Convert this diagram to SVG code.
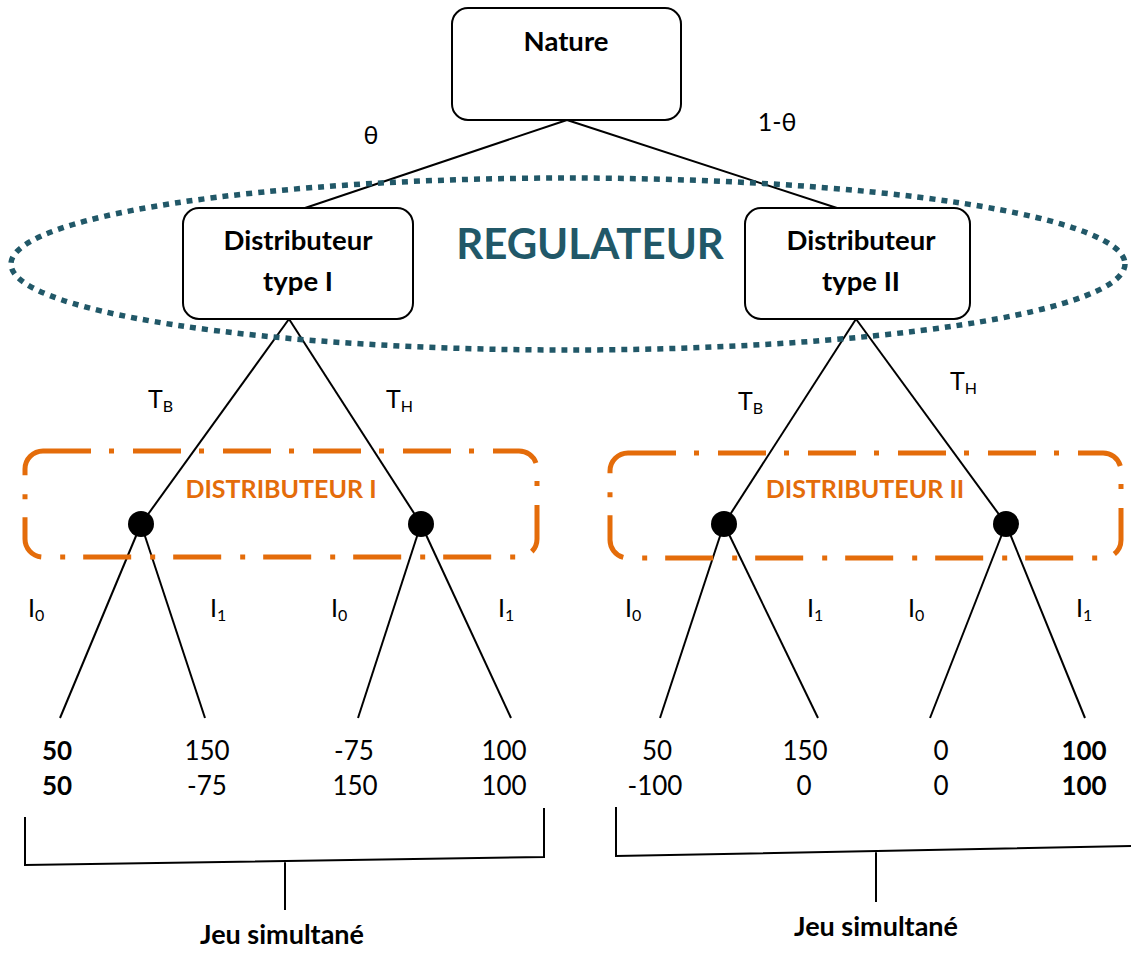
<svg xmlns="http://www.w3.org/2000/svg" width="1131" height="953" viewBox="0 0 1131 953">
<style>
text{font-family:Lato,"Open Sans","DejaVu Sans",sans-serif;fill:#000}
.b{font-weight:bold}
.box{fill:#fff;stroke:#000;stroke-width:2}
.ln{stroke:#000;stroke-width:2;fill:none}
.lbl{font-size:25px}
.sub{font-size:16px}
.pay{font-size:26px;text-anchor:middle}
.orange{fill:none;stroke:#E46C0A;stroke-width:5;stroke-dasharray:48 18 5 19}
.otxt{fill:#E46C0A;font-size:25px;font-weight:bold;text-anchor:middle}
.node{font-size:27.5px;font-weight:bold;text-anchor:middle}
.jeu{font-size:27px;font-weight:bold;text-anchor:middle}
</style>
<rect width="1131" height="953" fill="#fff"/>
<g id="connectors">
<line class="ln" x1="567" y1="120" x2="305" y2="208"/>
<line class="ln" x1="567" y1="120" x2="837" y2="208"/>
<line class="ln" x1="289" y1="319" x2="141" y2="524"/>
<line class="ln" x1="289" y1="319" x2="421" y2="524"/>
<line class="ln" x1="856" y1="319" x2="724" y2="524"/>
<line class="ln" x1="856" y1="319" x2="1006" y2="524"/>
<line class="ln" x1="141" y1="524" x2="60" y2="718"/>
<line class="ln" x1="141" y1="524" x2="205" y2="718"/>
<line class="ln" x1="421" y1="524" x2="358" y2="718"/>
<line class="ln" x1="421" y1="524" x2="511" y2="718"/>
<line class="ln" x1="724" y1="524" x2="660" y2="718"/>
<line class="ln" x1="724" y1="524" x2="818" y2="718"/>
<line class="ln" x1="1006" y1="524" x2="930" y2="718"/>
<line class="ln" x1="1006" y1="524" x2="1085" y2="718"/>
</g>
<g id="regulateur">
<ellipse cx="568" cy="264" rx="557" ry="86" fill="none" stroke="#215868" stroke-width="5.5" stroke-dasharray="6 6"/>
<text x="590" y="259" text-anchor="middle" font-size="42" font-weight="bold" style="fill:#215868">REGULATEUR</text>
</g>
<g id="nature">
<rect class="box" x="452" y="8" width="229" height="112" rx="16"/>
<text class="node" x="566" y="51" font-size="31">Nature</text>
</g>
<g id="prob-labels">
<text class="lbl" x="371" y="144" text-anchor="middle">θ</text>
<text class="lbl" x="777" y="131" text-anchor="middle">1-θ</text>
</g>
<g id="dist1">
<rect class="box" x="183" y="208" width="230" height="111" rx="16"/>
<text class="node" x="298" y="250">Distributeur</text>
<text class="node" x="298" y="291">type I</text>
</g>
<g id="dist2">
<rect class="box" x="745" y="208" width="225" height="111" rx="16"/>
<text class="node" x="861" y="250">Distributeur</text>
<text class="node" x="861" y="291">type II</text>
</g>
<g id="t-labels">
<text class="lbl" x="148" y="408">T<tspan class="sub" dy="4">B</tspan></text>
<text class="lbl" x="386" y="408">T<tspan class="sub" dy="4">H</tspan></text>
<text class="lbl" x="738" y="410">T<tspan class="sub" dy="4">B</tspan></text>
<text class="lbl" x="950" y="390">T<tspan class="sub" dy="4">H</tspan></text>
</g>
<g id="distributeur1">
<rect class="orange" x="25" y="451" width="512" height="106" rx="18"/>
<text class="otxt" x="281" y="498">DISTRIBUTEUR I</text>
<circle cx="141" cy="524" r="13"/>
<circle cx="421" cy="524" r="13"/>
</g>
<g id="distributeur2">
<rect class="orange" x="610" y="453" width="511" height="105" rx="18"/>
<text class="otxt" x="865" y="498">DISTRIBUTEUR II</text>
<circle cx="724" cy="524" r="13"/>
<circle cx="1006" cy="524" r="13"/>
</g>
<g id="i-labels">
<text class="lbl" x="28" y="617">I<tspan class="sub" dy="4">0</tspan></text>
<text class="lbl" x="210" y="617">I<tspan class="sub" dy="4">1</tspan></text>
<text class="lbl" x="331" y="617">I<tspan class="sub" dy="4">0</tspan></text>
<text class="lbl" x="498" y="617">I<tspan class="sub" dy="4">1</tspan></text>
<text class="lbl" x="625" y="617">I<tspan class="sub" dy="4">0</tspan></text>
<text class="lbl" x="807" y="617">I<tspan class="sub" dy="4">1</tspan></text>
<text class="lbl" x="908" y="617">I<tspan class="sub" dy="4">0</tspan></text>
<text class="lbl" x="1076" y="617">I<tspan class="sub" dy="4">1</tspan></text>
</g>
<g id="payoffs">
<text class="pay b" x="57" y="760">50</text>
<text class="pay b" x="57" y="795">50</text>
<text class="pay" x="207" y="760">150</text>
<text class="pay" x="207" y="795">-75</text>
<text class="pay" x="354" y="760">-75</text>
<text class="pay" x="355" y="795">150</text>
<text class="pay" x="504" y="760">100</text>
<text class="pay" x="504" y="795">100</text>
<text class="pay" x="657" y="760">50</text>
<text class="pay" x="655" y="795">-100</text>
<text class="pay" x="805" y="760">150</text>
<text class="pay" x="804" y="795">0</text>
<text class="pay" x="941" y="760">0</text>
<text class="pay" x="941" y="795">0</text>
<text class="pay b" x="1084" y="760">100</text>
<text class="pay b" x="1084" y="795">100</text>
</g>
<g id="bracket1">
<path class="ln" d="M25 817 V865 L544 857 V808 M285 861 V910"/>
<text class="jeu" x="282" y="944">Jeu simultané</text>
</g>
<g id="bracket2">
<path class="ln" d="M616 807 V856 L1131 846 M876 851 V902"/>
<text class="jeu" x="876" y="936">Jeu simultané</text>
</g>
</svg>
